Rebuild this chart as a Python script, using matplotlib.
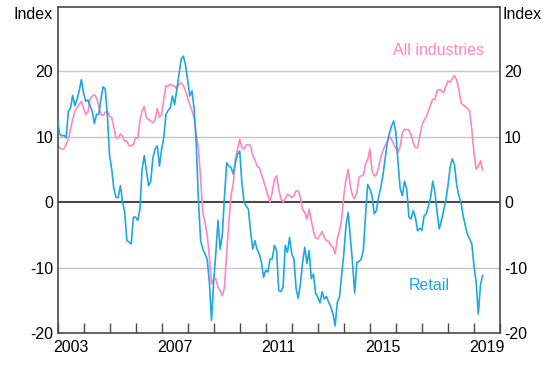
import numpy as np
import matplotlib
matplotlib.use('Agg')
import matplotlib.pyplot as plt
from matplotlib.ticker import FixedLocator, FixedFormatter

plt.rcParams['font.family'] = ['Liberation Sans', 'DejaVu Sans']

# monthly index values, Jan 2003 onwards
retail = [
    12.5, 10.4, 10.1, 10.2, 9.8, 13.9, 14.4, 16.3, 14.7, 15.7, 17.0, 18.7,
    16.7, 15.4, 15.6, 14.7, 13.9, 12.0, 13.4, 13.4, 15.7, 17.6, 17.3, 13.1,
    7.1, 5.0, 2.0, 0.7, 0.7, 2.5, 0.0, -1.6, -5.9, -6.1, -6.4, -2.3,
    -2.3, -2.8, -1.1, 5.0, 7.1, 4.8, 2.5, 3.2, 6.8, 8.1, 8.6, 5.5,
    8.1, 9.8, 13.4, 14.0,
    14.4, 16.2, 14.9, 17.2, 19.5, 21.8, 22.3, 21.0, 18.7, 16.2,
    17.0, 14.2, 8.6, 0.0, -5.9, -7.2, -7.9, -8.7, -12.2, -18.1,
    -12.2, -7.7, -2.8, -7.2, -4.9, 1.0, 6.0, 5.5, 5.3, 4.3,
    6.0, 7.3, 7.8, 3.0, 0.0, -0.6, -1.1, -4.4, -7.2, -5.9,
    -7.2, -7.9, -9.2, -11.5, -10.4, -10.7, -8.7, -8.7, -6.6, -7.4,
    -13.5, -13.7,
    -13.0, -6.6, -7.7, -5.4, -7.9, -8.7, -13.2, -14.7, -12.5, -9.2,
    -6.9, -9.4, -7.4, -11.7, -11.0, -14.0, -14.5, -15.4, -13.7, -14.8,
    -14.4, -15.3, -16.0, -17.1, -18.9, -15.3, -14.5, -11.2, -7.9, -3.6,
    -1.6, -5.4, -9.2, -13.9, -9.2, -9.1, -8.7, -7.4, -2.1, 2.7,
    2.0, 1.0, -1.8, -1.3, 0.7, 2.2, 4.0, 6.5, 9.0, 10.5,
    11.6, 12.4, 10.6, 6.0, 2.0, 1.0, 3.2, 2.0, -2.3, -2.6,
    -1.3, -2.3, -4.4, -4.0, -4.3, -2.1, -1.8, -0.6, 0.7, 3.2,
    1.5, -1.6, -4.1, -2.8, -1.3, 0.2, 2.5, 5.3, 6.6, 5.8,
    2.7, 1.0, 0.0, -2.1, -3.6, -4.9, -5.6, -6.4, -9.7, -12.2,
    -17.1, -12.7, -11.2,
]

all_industries = [
    8.8, 8.3, 8.1, 8.1, 8.8, 9.6, 11.1, 12.6, 13.9, 14.4,
    14.9, 15.4, 14.4, 13.4, 13.7, 15.7, 16.2, 16.4, 15.9, 14.7,
    13.4, 13.2, 13.7, 13.9, 13.1, 12.9, 11.4, 9.8, 9.8, 10.4,
    10.1, 9.3, 9.3, 8.6, 8.6, 8.8, 9.8, 9.8, 12.4, 13.9,
    14.6, 12.9, 12.6, 12.4, 12.1, 12.6, 14.3, 12.9, 13.4, 15.7,
    17.8, 17.7,
    18.0, 17.8, 17.7, 17.3, 18.0, 18.2, 17.8, 17.0, 15.9, 14.9,
    13.9, 12.9, 10.4, 8.1, 3.5, -1.6, -3.1, -5.1, -8.2, -12.5,
    -11.7, -11.7, -13.0, -13.5, -14.3, -13.0, -7.7, -3.1, 1.0, 2.7,
    6.5, 8.1, 9.6, 8.3, 8.1, 8.7, 8.8, 8.6, 7.1, 6.5,
    5.5, 5.3, 4.3, 3.2, 2.2, 1.0, 0.0, 1.5, 3.5, 4.0,
    2.0, 0.5,
    0.0, 0.5, 1.2, 1.0, 0.7, 1.0, 1.7, 1.7, 0.7, -1.1,
    -1.6, -2.6, -1.1, -2.8, -4.4, -5.5, -5.6, -5.1, -4.5, -5.4,
    -5.9, -6.0, -6.6, -6.9, -7.9, -5.6, -4.4, -2.6, 1.0, 3.5,
    5.0, 2.5, 1.0, 0.5, 1.5, 3.8, 4.0, 4.1, 5.8, 6.5,
    8.1, 4.8, 4.0, 4.1, 5.3, 6.8, 7.8, 8.6, 9.2, 10.0,
    9.6, 8.8, 8.2, 7.6, 8.5, 10.6, 11.1, 11.1, 11.0, 10.2,
    9.1, 8.3, 8.3, 10.0, 11.7, 12.5, 13.0, 13.9, 14.9, 15.7,
    15.7, 17.0, 17.2, 17.0, 16.7, 17.7, 18.5, 18.3, 18.8, 19.3,
    18.7, 17.3, 15.2, 14.8, 14.6, 14.3, 13.9, 11.1, 7.6, 5.0,
    5.5, 6.3, 4.9,
]

start_year = 2003
year_labels = ['2003', '2007', '2011', '2015', '2019']
y_ticks = [-20, -10, 0, 10, 20]

PINK = '#ff86c2'
BLUE = '#1ea8e1'


def main():
    t_retail = start_year + np.arange(len(retail)) / 12
    t_all = start_year + np.arange(len(all_industries)) / 12

    fig = plt.figure(figsize=(5.59, 3.71), dpi=100)
    ax = fig.add_axes([57.5 / 559, 38 / 371, 442.5 / 559, 326 / 371])

    for v in y_ticks:
        if v != 0:
            ax.axhline(v, color='#c6c6c6', lw=1, zorder=0)
    ax.axhline(0, color='#4a4a4a', lw=1.5, zorder=1)

    ax.plot(t_all, all_industries, color=PINK, lw=1.2, zorder=2)
    ax.plot(t_retail, retail, color=BLUE, lw=1.2, zorder=3)

    ax.set_xlim(2003, 2020)
    ax.set_ylim(-20, 29.8)

    ax.set_yticks(y_ticks)
    ax.set_yticklabels([str(v) for v in y_ticks])
    ax.tick_params(axis='y', length=0, labelsize=11.5, labelleft=True,
                   labelright=True, pad=3)

    ax.xaxis.set_major_locator(FixedLocator(np.arange(2003, 2021)))
    ax.xaxis.set_major_formatter(FixedFormatter([''] * 18))
    ax.xaxis.set_minor_locator(FixedLocator([int(y) + 0.5 for y in year_labels]))
    ax.xaxis.set_minor_formatter(FixedFormatter(year_labels))
    ax.tick_params(axis='x', which='major', direction='in', length=7,
                   width=1, color='#4a4a4a')
    ax.tick_params(axis='x', which='minor', length=0, labelsize=11.5, pad=5)

    for s in ax.spines.values():
        s.set_color('#4a4a4a')
        s.set_linewidth(1.2)

    ax.text(-0.01, 0.978, 'Index', transform=ax.transAxes, ha='right',
            va='center', fontsize=11.5)
    ax.text(1.005, 0.978, 'Index', transform=ax.transAxes, ha='left',
            va='center', fontsize=11.5)

    ax.text(2019.4, 23.1, 'All industries', color=PINK, ha='right',
            va='center', fontsize=11.5)
    ax.text(2017.3, -12.8, 'Retail', color=BLUE, ha='center',
            va='center', fontsize=11.5)

    fig.savefig('out.png', dpi=100)


if __name__ == '__main__':
    main()
